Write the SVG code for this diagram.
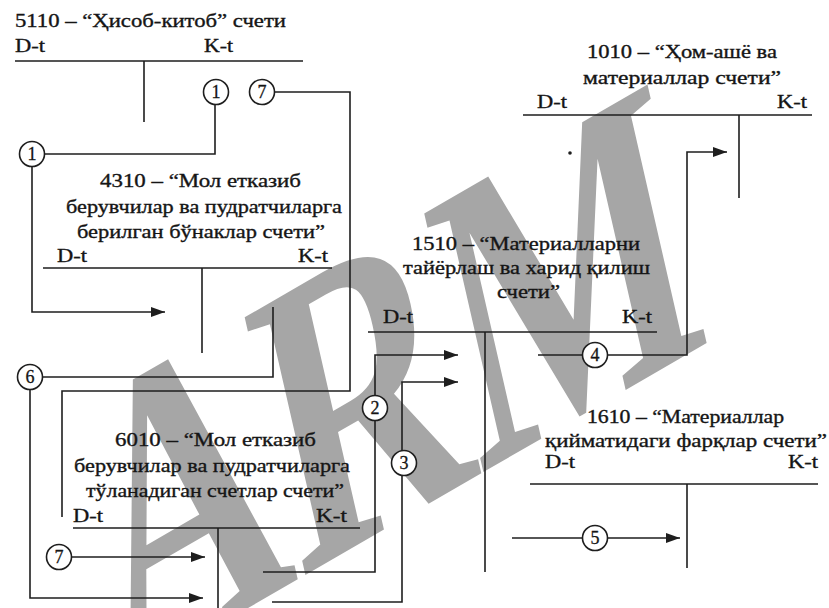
<svg xmlns="http://www.w3.org/2000/svg" width="829" height="608" viewBox="0 0 829 608">
<defs>
<style>
.t{font-family:"Liberation Serif","DejaVu Serif","Times New Roman",serif;font-size:18.5px;fill:#151515;stroke:#151515;stroke-width:0.35px}
.n{font-family:"Liberation Serif","DejaVu Serif",serif;font-size:18px;fill:#151515;stroke:#151515;stroke-width:0.3px;text-anchor:middle}
.l{stroke:#1e1e1e;stroke-width:1.6;fill:none}
.c{stroke:#1e1e1e;stroke-width:1.6;fill:#fff}
.a{stroke:#1e1e1e;stroke-width:1.6;fill:none;marker-end:url(#arr)}
.wm{font-family:"Liberation Serif","DejaVu Serif",serif;font-size:420px;font-weight:bold;fill:#a6a6a6}
</style>
<marker id="arr" viewBox="0 0 14 10" markerWidth="14" markerHeight="10" refX="14" refY="5" orient="auto" markerUnits="userSpaceOnUse">
<path d="M0,0 L14,5 L0,10 z" fill="#1e1e1e"/>
</marker>
</defs>
<rect width="829" height="608" fill="#fff"/>
<text class="wm" x="0" y="0" transform="matrix(0.592,-0.342,0.215,0.94,120,682)">ARM</text>

<g id="acc5110">
<text class="t" x="15" y="27" textLength="271" lengthAdjust="spacingAndGlyphs">5110 – “Ҳисоб-китоб” счети</text>
<text class="t" x="15" y="52" textLength="30" lengthAdjust="spacingAndGlyphs">D-t</text>
<text class="t" x="204" y="52" textLength="29" lengthAdjust="spacingAndGlyphs">K-t</text>
<path class="l" d="M15,61 H303 M144,61 V122"/>
</g>

<g id="acc4310">
<text class="t" x="100" y="187" textLength="201" lengthAdjust="spacingAndGlyphs">4310 – “Мол етказиб</text>
<text class="t" x="66" y="213" textLength="276" lengthAdjust="spacingAndGlyphs">берувчилар ва пудратчиларга</text>
<text class="t" x="77" y="238" textLength="248" lengthAdjust="spacingAndGlyphs">берилган бўнаклар счети”</text>
<text class="t" x="57" y="262" textLength="30" lengthAdjust="spacingAndGlyphs">D-t</text>
<text class="t" x="298" y="262" textLength="30" lengthAdjust="spacingAndGlyphs">K-t</text>
<path class="l" d="M43,268 H332 M202,268 V353"/>
</g>

<g id="acc6010">
<text class="t" x="115" y="446" textLength="201" lengthAdjust="spacingAndGlyphs">6010 – “Мол етказиб</text>
<text class="t" x="74" y="472" textLength="276" lengthAdjust="spacingAndGlyphs">берувчилар ва пудратчиларга</text>
<text class="t" x="86" y="497" textLength="258" lengthAdjust="spacingAndGlyphs">тўланадиган счетлар счети”</text>
<text class="t" x="73" y="522" textLength="30" lengthAdjust="spacingAndGlyphs">D-t</text>
<text class="t" x="316" y="522" textLength="31" lengthAdjust="spacingAndGlyphs">K-t</text>
<path class="l" d="M73,528 H360 M218,528 V608"/>
</g>

<g id="acc1510">
<text class="t" x="412" y="250" textLength="228" lengthAdjust="spacingAndGlyphs">1510 – “Материалларни</text>
<text class="t" x="403" y="274" textLength="247" lengthAdjust="spacingAndGlyphs">тайёрлаш ва харид қилиш</text>
<text class="t" x="497" y="298" textLength="63" lengthAdjust="spacingAndGlyphs">счети”</text>
<text class="t" x="383" y="323" textLength="30" lengthAdjust="spacingAndGlyphs">D-t</text>
<text class="t" x="622" y="323" textLength="30" lengthAdjust="spacingAndGlyphs">K-t</text>
<path class="l" d="M368,332 H657 M485,332 V572"/>
</g>

<g id="acc1010">
<text class="t" x="587" y="58" textLength="190" lengthAdjust="spacingAndGlyphs">1010 – “Ҳом-ашё ва</text>
<text class="t" x="583" y="84" textLength="198" lengthAdjust="spacingAndGlyphs">материаллар счети”</text>
<text class="t" x="537" y="108" textLength="30" lengthAdjust="spacingAndGlyphs">D-t</text>
<text class="t" x="777" y="108" textLength="30" lengthAdjust="spacingAndGlyphs">K-t</text>
<path class="l" d="M523,115 H812 M739,115 V198"/>
<circle cx="570" cy="153" r="1.8" fill="#1e1e1e"/>
</g>

<g id="acc1610">
<text class="t" x="587" y="423" textLength="197" lengthAdjust="spacingAndGlyphs">1610 – “Материаллар</text>
<text class="t" x="545" y="447" textLength="282" lengthAdjust="spacingAndGlyphs">қийматидаги фарқлар счети”</text>
<text class="t" x="545" y="468" textLength="30" lengthAdjust="spacingAndGlyphs">D-t</text>
<text class="t" x="788" y="468" textLength="30" lengthAdjust="spacingAndGlyphs">K-t</text>
<path class="l" d="M530,484 H818 M687,484 V568"/>
</g>

<g id="connectors">
<path class="l" d="M215,104 V154 H44"/>
<path class="a" d="M32,166 V312 H165"/>
<path class="l" d="M275,92 H350 V391 H62 V517"/>
<path class="a" d="M72,557 H205"/>
<path class="l" d="M273,307 V377 H43"/>
<path class="a" d="M30,390 V598 H203"/>
<path class="l" d="M263,572 H375 V421"/>
<path class="a" d="M375,396 V355 H458"/>
<path class="l" d="M272,602 H402 V476"/>
<path class="a" d="M402,451 V382 H458"/>
<path class="l" d="M538,355 H582"/>
<path class="a" d="M608,355 H687 V152 H727"/>
<path class="l" d="M512,538 H582"/>
<path class="a" d="M608,538 H680"/>
</g>

<g id="labels">
<circle class="c" cx="216" cy="92" r="12.5"/><text class="n" x="216" y="98">1</text>
<circle class="c" cx="262" cy="92" r="12.5"/><text class="n" x="262" y="98">7</text>
<circle class="c" cx="32" cy="154" r="12.5"/><text class="n" x="32" y="160">1</text>
<circle class="c" cx="30" cy="377" r="12.5"/><text class="n" x="30" y="383">6</text>
<circle class="c" cx="59" cy="557" r="12.5"/><text class="n" x="59" y="563">7</text>
<circle class="c" cx="375" cy="408" r="12.5"/><text class="n" x="375" y="414">2</text>
<circle class="c" cx="404" cy="463" r="12.5"/><text class="n" x="404" y="469">3</text>
<circle class="c" cx="595" cy="355" r="12.5"/><text class="n" x="595" y="361">4</text>
<circle class="c" cx="595" cy="538" r="12.5"/><text class="n" x="595" y="544">5</text>
</g>
</svg>
